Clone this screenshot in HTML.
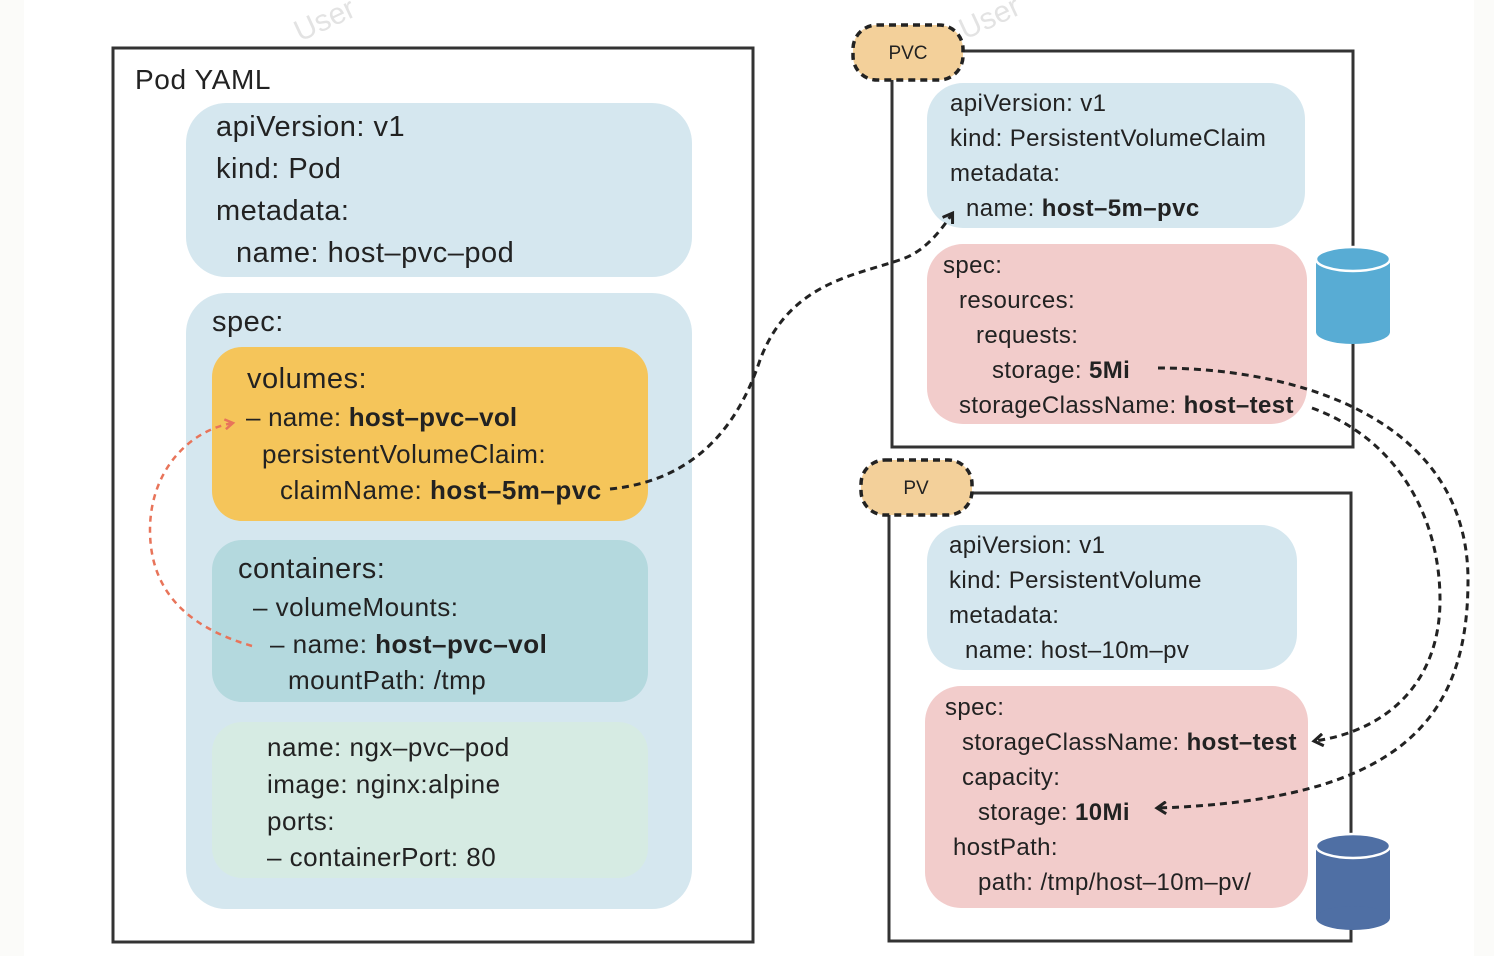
<!DOCTYPE html>
<html><head><meta charset="utf-8"><style>
html,body{margin:0;padding:0;background:#fbfbf9;}
svg{display:block;font-family:"Liberation Sans",sans-serif;}
.t{fill:#222;}
</style></head><body>
<svg width="1494" height="956" viewBox="0 0 1494 956" xmlns="http://www.w3.org/2000/svg">
<defs>
<marker id="ah" markerWidth="14" markerHeight="14" refX="10" refY="7" orient="auto" markerUnits="userSpaceOnUse"><path d="M2,1 L11,7 L2,13" fill="none" stroke="#222" stroke-width="3"/></marker>
<marker id="ao" markerWidth="12" markerHeight="12" refX="9" refY="6" orient="auto" markerUnits="userSpaceOnUse"><path d="M1,1 L9,6 L1,11" fill="none" stroke="#e8745a" stroke-width="2.5"/></marker>
</defs>
<rect x="0" y="0" width="1494" height="956" fill="#fbfbf9"/>
<rect x="24" y="0" width="1450" height="956" fill="#ffffff"/>
<g fill="#dcdcdc" font-size="30" opacity="0.8">
<text x="300" y="42" transform="rotate(-25 300 42)">User</text>
<text x="965" y="40" transform="rotate(-25 965 40)">User</text>
<text x="310" y="565" transform="rotate(-25 310 565)">User</text>
<text x="965" y="570" transform="rotate(-25 965 570)">User</text>
</g>

<rect x="113" y="48" width="640" height="894" fill="#fff" stroke="#333" stroke-width="3"/>
<text x="135" y="89" font-size="28" letter-spacing="0.6" class="t">Pod YAML</text>
<rect x="186" y="103" width="506" height="174" rx="40" fill="#d5e7ef"/>
<g font-size="29" letter-spacing="0.5" class="t">
<text x="216" y="136">apiVersion: v1</text>
<text x="216" y="178">kind: Pod</text>
<text x="216" y="220">metadata:</text>
<text x="236" y="262">name: host–pvc–pod</text>
</g>
<rect x="186" y="293" width="506" height="616" rx="40" fill="#d5e7ef"/>
<text x="212" y="331" font-size="29" letter-spacing="0.5" class="t">spec:</text>
<rect x="212" y="347" width="436" height="174" rx="30" fill="#f5c55a"/>
<g class="t" letter-spacing="0.5">
<text x="247" y="388" font-size="29">volumes:</text>
<text x="246" y="426" font-size="26" letter-spacing="0.2">– name: <tspan font-weight="bold">host–pvc–vol</tspan></text>
<text x="262" y="463" font-size="26">persistentVolumeClaim:</text>
<text x="280" y="499" font-size="26">claimName: <tspan font-weight="bold">host–5m–pvc</tspan></text>
</g>
<rect x="212" y="540" width="436" height="162" rx="30" fill="#b4d9de"/>
<g class="t" letter-spacing="0.5">
<text x="238" y="578" font-size="29">containers:</text>
<text x="253" y="616" font-size="26">– volumeMounts:</text>
<text x="270" y="653" font-size="26">– name: <tspan font-weight="bold">host–pvc–vol</tspan></text>
<text x="288" y="689" font-size="26">mountPath: /tmp</text>
</g>
<rect x="212" y="722" width="436" height="156" rx="30" fill="#d6ebe3"/>
<g class="t" font-size="26" letter-spacing="0.5">
<text x="267" y="756">name: ngx–pvc–pod</text>
<text x="267" y="793">image: nginx:alpine</text>
<text x="267" y="830">ports:</text>
<text x="267" y="866">– containerPort: 80</text>
</g>

<rect x="892" y="51" width="461" height="396" fill="#fff" stroke="#333" stroke-width="3"/>
<rect x="853" y="25" width="110" height="55" rx="24" fill="#f3d09a" stroke="#222" stroke-width="3.5" stroke-dasharray="7,5"/>
<text x="908" y="59" font-size="19" text-anchor="middle" class="t">PVC</text>
<rect x="927" y="83" width="378" height="145" rx="36" fill="#d5e7ef"/>
<g class="t" font-size="24" letter-spacing="0.4">
<text x="950" y="111">apiVersion: v1</text>
<text x="950" y="146">kind: PersistentVolumeClaim</text>
<text x="950" y="181">metadata:</text>
<text x="966" y="216">name: <tspan font-weight="bold">host–5m–pvc</tspan></text>
</g>
<rect x="927" y="244" width="380" height="180" rx="36" fill="#f2cccb"/>
<g class="t" font-size="24" letter-spacing="0.4">
<text x="943" y="273">spec:</text>
<text x="959" y="308">resources:</text>
<text x="976" y="343">requests:</text>
<text x="992" y="378">storage: <tspan font-weight="bold">5Mi</tspan></text>
<text x="959" y="413">storageClassName: <tspan font-weight="bold">host–test</tspan></text>
</g>
<g>
<rect x="1316" y="259" width="74" height="73" fill="#58acd4"/>
<ellipse cx="1353" cy="332" rx="37" ry="12" fill="#58acd4"/>
<ellipse cx="1353" cy="259" rx="37" ry="12" fill="#58acd4" stroke="#fff" stroke-width="2.5"/>
</g>

<rect x="889" y="493" width="462" height="448" fill="#fff" stroke="#333" stroke-width="3"/>
<rect x="861" y="460" width="111" height="55" rx="24" fill="#f3d09a" stroke="#222" stroke-width="3.5" stroke-dasharray="7,5"/>
<text x="916" y="494" font-size="19" text-anchor="middle" class="t">PV</text>
<rect x="927" y="525" width="370" height="145" rx="36" fill="#d5e7ef"/>
<g class="t" font-size="24" letter-spacing="0.4">
<text x="949" y="553">apiVersion: v1</text>
<text x="949" y="588">kind: PersistentVolume</text>
<text x="949" y="623">metadata:</text>
<text x="965" y="658">name: host–10m–pv</text>
</g>
<rect x="925" y="686" width="383" height="222" rx="36" fill="#f2cccb"/>
<g class="t" font-size="24" letter-spacing="0.4">
<text x="945" y="715">spec:</text>
<text x="962" y="750">storageClassName: <tspan font-weight="bold">host–test</tspan></text>
<text x="962" y="785">capacity:</text>
<text x="978" y="820">storage: <tspan font-weight="bold">10Mi</tspan></text>
<text x="953" y="855">hostPath:</text>
<text x="978" y="890">path: /tmp/host–10m–pv/</text>
</g>
<g>
<rect x="1316" y="846" width="74" height="72" fill="#4f6fa4"/>
<ellipse cx="1353" cy="918" rx="37" ry="12" fill="#4f6fa4"/>
<ellipse cx="1353" cy="846" rx="37" ry="12" fill="#4f6fa4" stroke="#fff" stroke-width="2.5"/>
</g>

<g fill="none" stroke="#222" stroke-width="3" stroke-dasharray="7,5">
<path d="M610,489 C700,480 740,420 760,360 C790,280 860,275 905,258 C925,250 940,232 952,214" marker-end="url(#ah)"/>
<path d="M1158,368 C1300,368 1468,420 1468,580 C1468,720 1400,800 1158,808" marker-end="url(#ah)"/>
<path d="M1312,408 C1400,440 1440,520 1440,600 C1440,680 1390,730 1315,741" marker-end="url(#ah)"/>
</g>
<path d="M252,646 C180,625 150,585 150,530 C150,470 190,430 233,423" fill="none" stroke="#e8745a" stroke-width="2.5" stroke-dasharray="6,5" marker-end="url(#ao)"/>
</svg>
</body></html>
